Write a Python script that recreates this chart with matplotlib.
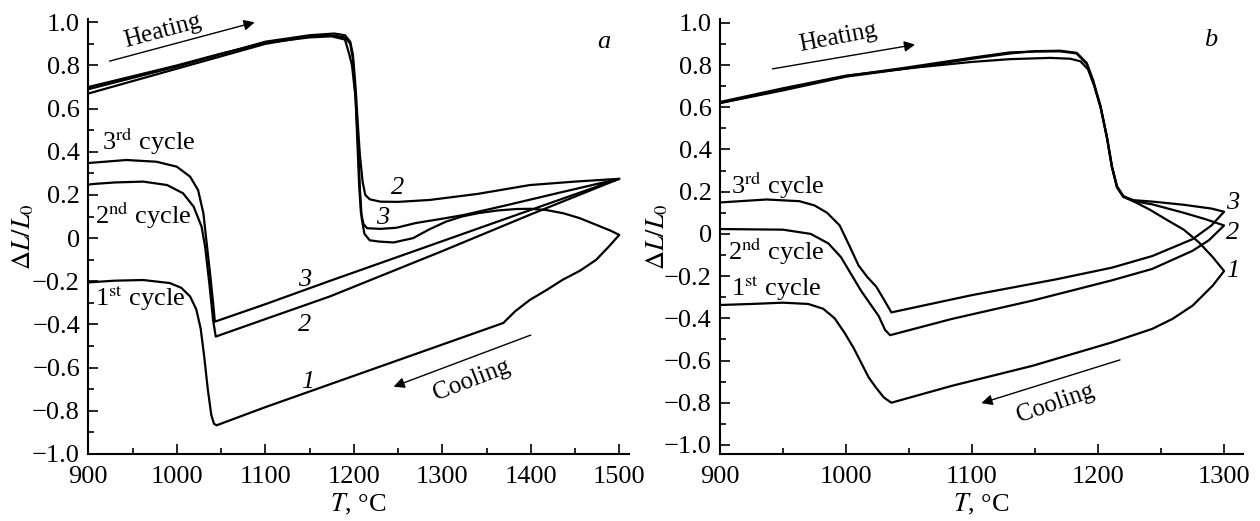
import matplotlib

matplotlib.use("Agg")
import matplotlib.pyplot as plt
from matplotlib.ticker import MultipleLocator, FixedLocator, FixedFormatter

plt.rcParams["font.family"] = ["Liberation Serif", "DejaVu Serif"]
plt.rcParams["mathtext.fontset"] = "stix"

FS = 19

# --- panel a : heating / cooling runs up to 1500 C -------------------------
a1_heat_T = [900, 1000, 1050, 1100, 1150, 1175, 1190, 1195, 1198, 1202, 1205, 1207, 1209,
             1212, 1218, 1229, 1245, 1267, 1285, 1304, 1322, 1341, 1362, 1384, 1400, 1418,
             1437, 1455, 1475, 1490, 1500]
a1_heat_y = [0.70, 0.80, 0.855, 0.905, 0.93, 0.935, 0.92, 0.85, 0.80, 0.65, 0.42, 0.22, 0.09,
             0.02, -0.01, -0.016, -0.02, 0.0, 0.04, 0.076, 0.10, 0.116, 0.128, 0.135, 0.136, 0.13,
             0.115, 0.093, 0.06, 0.035, 0.015]
a1_cool_T = [1500, 1488, 1474, 1456, 1436, 1418, 1399, 1382, 1369, 1300, 1200, 1100, 1045,
             1042, 1039, 1035, 1031, 1027, 1022, 1015, 1005, 992, 962, 930, 900]
a1_cool_y = [0.015, -0.04, -0.10, -0.15, -0.193, -0.24, -0.286, -0.34, -0.393, -0.493, -0.638,
             -0.783, -0.867, -0.86, -0.82, -0.70, -0.55, -0.42, -0.33, -0.27, -0.23, -0.208,
             -0.194, -0.197, -0.205]

a2_heat_T = [900, 1000, 1100, 1150, 1178, 1190, 1196, 1199, 1202, 1205, 1207, 1210, 1213, 1218,
             1230, 1250, 1286, 1340, 1399, 1450, 1500]
a2_heat_y = [0.69, 0.795, 0.91, 0.94, 0.948, 0.94, 0.91, 0.85, 0.70, 0.50, 0.38, 0.26, 0.20,
             0.18, 0.169, 0.168, 0.177, 0.205, 0.246, 0.262, 0.275]
a2_cool_T = [1500, 1400, 1300, 1173, 1100, 1044, 1041, 1037, 1032, 1028, 1019, 1007, 989, 962,
             930, 906, 900]
a2_cool_y = [0.275, 0.11, -0.06, -0.27, -0.375, -0.456, -0.38, -0.22, -0.04, 0.053, 0.146, 0.208,
             0.246, 0.262, 0.258, 0.251, 0.248]

a3_heat_T = [900, 1000, 1100, 1150, 1175, 1190, 1196, 1199, 1202, 1204, 1206, 1208, 1211, 1215,
             1230, 1248, 1270, 1300, 1324, 1370, 1437, 1500]
a3_heat_y = [0.67, 0.785, 0.90, 0.935, 0.94, 0.93, 0.90, 0.83, 0.65, 0.45, 0.25, 0.12, 0.065,
             0.046, 0.043, 0.048, 0.07, 0.09, 0.107, 0.15, 0.215, 0.275]
a3_cool_T = [1500, 1400, 1300, 1173, 1100, 1043, 1041, 1038, 1035, 1030, 1024, 1015, 1000, 977,
             943, 906, 900]
a3_cool_y = [0.275, 0.131, -0.014, -0.198, -0.306, -0.387, -0.30, -0.18, -0.07, 0.116, 0.223,
             0.285, 0.331, 0.354, 0.362, 0.35, 0.348]

# --- panel b : heating / cooling runs up to 1300 C -------------------------
b1_heat_T = [900, 950, 1000, 1050, 1100, 1130, 1162, 1178, 1186, 1192, 1197, 1202, 1207, 1211,
             1215, 1220, 1228, 1241, 1255, 1268, 1280, 1291, 1300]
b1_heat_y = [0.62, 0.68, 0.745, 0.785, 0.815, 0.828, 0.834, 0.83, 0.818, 0.78, 0.70, 0.60, 0.46,
             0.32, 0.225, 0.18, 0.155, 0.115, 0.065, 0.02, -0.04, -0.11, -0.176]
b1_cool_T = [1300, 1291, 1275, 1259, 1243, 1211, 1148, 1084, 1036, 1030, 1024, 1018, 1012, 1006,
             999, 991, 982, 970, 950, 925, 900]
b1_cool_y = [-0.176, -0.245, -0.34, -0.403, -0.45, -0.514, -0.625, -0.72, -0.80, -0.775, -0.73,
             -0.68, -0.61, -0.54, -0.47, -0.40, -0.355, -0.332, -0.326, -0.332, -0.337]

b2_heat_T = [900, 950, 1000, 1050, 1100, 1130, 1150, 1170, 1183, 1191, 1196, 1202, 1207, 1211,
             1215, 1220, 1228, 1243, 1268, 1285, 1300]
b2_heat_y = [0.62, 0.685, 0.748, 0.79, 0.835, 0.86, 0.864, 0.865, 0.855, 0.805, 0.725, 0.60,
             0.455, 0.315, 0.22, 0.175, 0.155, 0.14, 0.10, 0.07, 0.04]
b2_cool_T = [1300, 1288, 1275, 1243, 1211, 1148, 1084, 1035, 1031, 1026, 1019, 1012, 1004, 996,
             986, 972, 950, 900]
b2_cool_y = [0.04, -0.03, -0.08, -0.166, -0.22, -0.316, -0.403, -0.48, -0.455, -0.39, -0.33,
             -0.27, -0.19, -0.11, -0.045, 0.0, 0.02, 0.023]

b3_heat_T = [900, 950, 1000, 1050, 1100, 1130, 1150, 1170, 1183, 1191, 1196, 1202, 1207, 1211,
             1215, 1220, 1228, 1245, 1268, 1290, 1300]
b3_heat_y = [0.625, 0.69, 0.75, 0.785, 0.83, 0.855, 0.866, 0.868, 0.858, 0.81, 0.73, 0.605,
             0.462, 0.32, 0.225, 0.178, 0.16, 0.152, 0.138, 0.12, 0.105]
b3_cool_T = [1300, 1290, 1275, 1243, 1211, 1167, 1100, 1036, 1030, 1024, 1017, 1010, 1003, 995,
             985, 975, 963, 937, 900]
b3_cool_y = [0.105, 0.04, -0.025, -0.105, -0.16, -0.215, -0.29, -0.372, -0.31, -0.25, -0.205,
             -0.15, -0.06, 0.04, 0.10, 0.135, 0.155, 0.163, 0.149]

y_ticks = [1.0, 0.8, 0.6, 0.4, 0.2, 0.0, -0.2, -0.4, -0.6, -0.8, -1.0]
y_tick_labels = ["1.0", "0.8", "0.6", "0.4", "0.2", "0", "\u22120.2", "\u22120.4", "\u22120.6",
                 "\u22120.8", "\u22121.0"]


def _axes(fig, rect, xlim, ylim, xmajor):
    ax = fig.add_axes(rect)
    ax.set_xlim(*xlim)
    ax.set_ylim(*ylim)
    ax.spines[["top", "right"]].set_visible(False)
    for s in ("left", "bottom"):
        ax.spines[s].set_linewidth(1.5)
    ax.xaxis.set_major_locator(MultipleLocator(xmajor))
    ax.xaxis.set_minor_locator(MultipleLocator(xmajor / 2))
    ax.yaxis.set_major_locator(FixedLocator(y_ticks))
    ax.yaxis.set_major_formatter(FixedFormatter(y_tick_labels))
    ax.yaxis.set_minor_locator(MultipleLocator(0.1))
    ax.tick_params(which="both", direction="in", width=1.2, labelsize=FS)
    ax.tick_params(which="major", length=7.5)
    ax.tick_params(which="minor", length=4)
    ax.tick_params(axis="x", pad=9)
    ax.tick_params(axis="y", pad=6)
    ax.set_xlabel(r"$T$, °C", fontsize=FS)
    ax.set_ylabel(r"$\Delta L/L_0$", fontsize=FS)
    ax.xaxis.set_label_coords(0.5, -0.088)
    ax.yaxis.set_label_coords(-0.096, 0.5)
    return ax


def _curve(ax, hT, hy, cT, cy):
    ax.plot(hT + cT, hy + cy, color="black", lw=1.6, solid_joinstyle="round")


def _fleche(ax, debut, fin):
    ax.annotate("", xy=fin, xytext=debut,
                arrowprops=dict(arrowstyle="-|>", color="black", lw=1.0,
                                mutation_scale=16, shrinkA=0, shrinkB=0))


fig = plt.figure(figsize=(12.6, 5.21), dpi=100)
fig.patch.set_facecolor("white")

bottom, height = 0.1286, 0.834

# panel a
ax = _axes(fig, [0.0701, bottom, 0.4291, height], (900, 1511), (-1.0, 1.013), 100)
_curve(ax, a1_heat_T, a1_heat_y, a1_cool_T, a1_cool_y)
_curve(ax, a2_heat_T, a2_heat_y, a2_cool_T, a2_cool_y)
_curve(ax, a3_heat_T, a3_heat_y, a3_cool_T, a3_cool_y)
_fleche(ax, (924, 0.82), (1088, 1.0))
ax.text(984, 0.96, "Heating", fontsize=FS - 1, rotation=15, ha="center", va="center")
_fleche(ax, (1400, -0.449), (1245, -0.688))
ax.text(1333, -0.657, "Cooling", fontsize=FS - 1, rotation=21, ha="center", va="center")
ax.text(1483, 0.91, "a", fontsize=FS, style="italic", ha="center", va="center")
ax.text(916, 0.451, r"3$^{\mathrm{rd}}$ cycle", fontsize=FS, ha="left", va="center")
ax.text(907, 0.107, r"2$^{\mathrm{nd}}$ cycle", fontsize=FS, ha="left", va="center")
ax.text(908, -0.279, r"1$^{\mathrm{st}}$ cycle", fontsize=FS, ha="left", va="center")
for T, y, s in [(1250, 0.231, "2"), (1233, 0.092, "3"), (1144, -0.194, "3"),
                (1144, -0.402, "2"), (1148, -0.665, "1")]:
    ax.text(T, y, s, fontsize=FS, style="italic", ha="center", va="center")

# panel b
ax = _axes(fig, [0.5714, bottom, 0.4151, height], (900, 1315), (-1.043, 1.016), 100)
_curve(ax, b1_heat_T, b1_heat_y, b1_cool_T, b1_cool_y)
_curve(ax, b2_heat_T, b2_heat_y, b2_cool_T, b2_cool_y)
_curve(ax, b3_heat_T, b3_heat_y, b3_cool_T, b3_cool_y)
_fleche(ax, (941.7, 0.782), (1054.8, 0.897))
ax.text(994, 0.929, "Heating", fontsize=FS - 1, rotation=11, ha="center", va="center")
_fleche(ax, (1217.4, -0.597), (1107.5, -0.802))
ax.text(1166, -0.802, "Cooling", fontsize=FS - 1, rotation=19, ha="center", va="center")
ax.text(1289, 0.921, "b", fontsize=FS, style="italic", ha="center", va="center")
ax.text(909, 0.233, r"3$^{\mathrm{rd}}$ cycle", fontsize=FS, ha="left", va="center")
ax.text(906, -0.083, r"2$^{\mathrm{nd}}$ cycle", fontsize=FS, ha="left", va="center")
ax.text(909, -0.255, r"1$^{\mathrm{st}}$ cycle", fontsize=FS, ha="left", va="center")
for T, y, s in [(1307, 0.146, "3"), (1307, 0.004, "2"), (1307, -0.178, "1")]:
    ax.text(T, y, s, fontsize=FS, style="italic", ha="center", va="center")

fig.savefig("out.png", dpi=100, facecolor="white")
